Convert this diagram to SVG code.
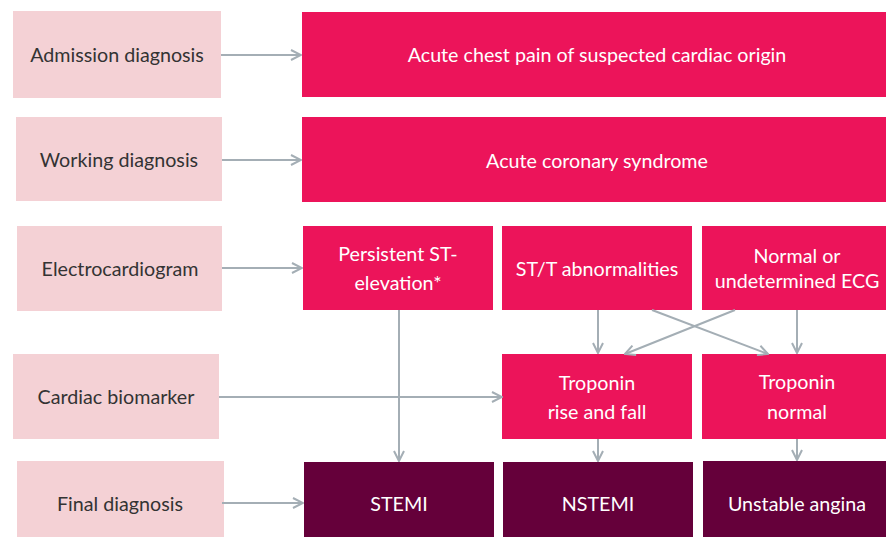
<svg xmlns="http://www.w3.org/2000/svg" width="886" height="537" viewBox="0 0 886 537">
<defs>
<marker id="arr" viewBox="0 0 12 12" refX="11" refY="6" markerWidth="12" markerHeight="12" markerUnits="userSpaceOnUse" orient="auto">
<path d="M1,1 L11,6 L1,11" fill="none" stroke="#a4aeb5" stroke-width="2"/>
</marker>
<style>
.lab{fill:#f4d1d5}
.mag{fill:#ec145a}
.dark{fill:#65003a}
text{font-family:Lato,"Open Sans","Liberation Sans",sans-serif;font-size:19.7px;text-anchor:middle}
.lt{fill:#333333}
.wt{fill:#ffffff}
.conn path{fill:none;stroke:#a4aeb5;stroke-width:2;marker-end:url(#arr)}
</style>
</defs>
<rect width="886" height="537" fill="#ffffff"/>
<g id="admission"><rect class="lab" x="13" y="11" width="208" height="87"/><text class="lt" x="117" y="62">Admission diagnosis</text></g>
<g id="working"><rect class="lab" x="16" y="117" width="206" height="84"/><text class="lt" x="119" y="167">Working diagnosis</text></g>
<g id="ecg"><rect class="lab" x="17" y="226" width="205" height="85"/><text class="lt" x="120" y="276">Electrocardiogram</text></g>
<g id="biomarker"><rect class="lab" x="13" y="354" width="206" height="85"/><text class="lt" x="116" y="404">Cardiac biomarker</text></g>
<g id="final"><rect class="lab" x="17" y="461" width="207" height="76"/><text class="lt" x="120" y="511">Final diagnosis</text></g>

<g id="chestpain"><rect class="mag" x="302" y="12" width="584" height="85"/><text class="wt" x="597" y="62">Acute chest pain of suspected cardiac origin</text></g>
<g id="acs"><rect class="mag" x="302" y="117" width="584" height="85"/><text class="wt" x="597" y="168">Acute coronary syndrome</text></g>
<g id="stelev"><rect class="mag" x="303" y="226" width="190" height="84"/><text class="wt" x="398" y="261">Persistent ST-</text><text class="wt" x="398" y="290">elevation*</text></g>
<g id="stt"><rect class="mag" x="502" y="226" width="190" height="84"/><text class="wt" x="597" y="276">ST/T abnormalities</text></g>
<g id="normalecg"><rect class="mag" x="702" y="226" width="184" height="84"/><text class="wt" x="797" y="263">Normal or</text><text class="wt" x="797" y="288">undetermined ECG</text></g>
<g id="troprise"><rect class="mag" x="502" y="354" width="190" height="85"/><text class="wt" x="597" y="390">Troponin</text><text class="wt" x="597" y="419">rise and fall</text></g>
<g id="tropnormal"><rect class="mag" x="702" y="354" width="184" height="85"/><text class="wt" x="797" y="389">Troponin</text><text class="wt" x="797" y="419">normal</text></g>
<g id="stemi"><rect class="dark" x="304" y="462" width="190" height="75"/><text class="wt" x="399" y="511">STEMI</text></g>
<g id="nstemi"><rect class="dark" x="503" y="462" width="190" height="75"/><text class="wt" x="598" y="511">NSTEMI</text></g>
<g id="ua"><rect class="dark" x="703" y="461" width="183" height="76"/><text class="wt" x="797" y="511">Unstable angina</text></g>

<g class="conn">
<path d="M221,55 H301"/>
<path d="M222,160 H301"/>
<path d="M222,268 H302"/>
<path d="M219,397 H502"/>
<path d="M222,503 H303"/>
<path d="M399,310 V461"/>
<path d="M598,310 V353"/>
<path d="M797,310 V353"/>
<path d="M652,310 L768,354"/>
<path d="M735,310 L625,354"/>
<path d="M598,439 V461"/>
<path d="M797,439 V460"/>
</g>
</svg>
